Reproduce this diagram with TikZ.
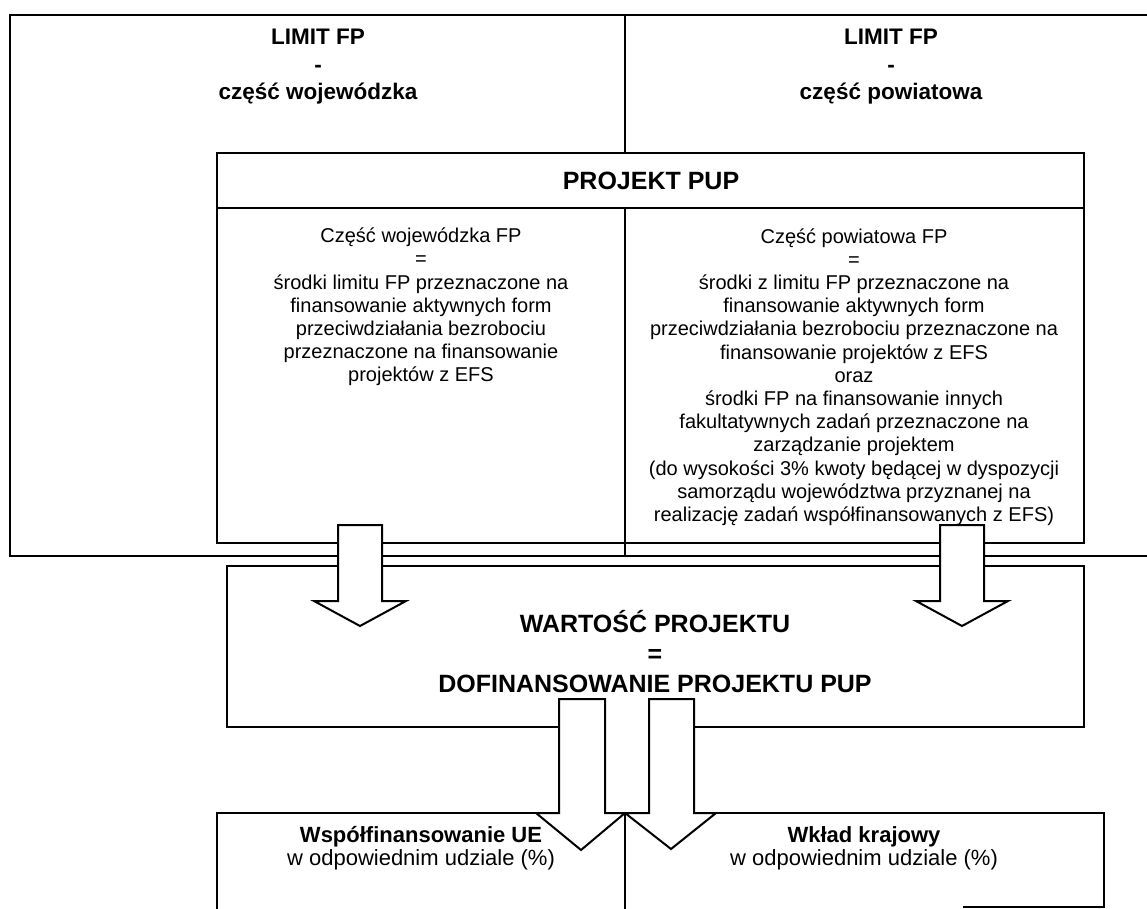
\documentclass[tikz,border=0pt]{standalone}
\usepackage{fontspec}
\setmainfont{Liberation Sans}
\begin{document}
\begin{tikzpicture}[x=1pt,y=-1pt,
  box/.style={draw=black, line width=2pt},
  hdr/.style={font=\fontsize{22.5}{27.5}\selectfont\bfseries, align=center, inner sep=0pt},
  big/.style={font=\fontsize{25}{30}\selectfont\bfseries, align=center, inner sep=0pt},
  body/.style={font=\fontsize{20}{23.2}\selectfont, align=center, inner sep=0pt},
  low/.style={font=\fontsize{22}{23}\selectfont, align=center, inner sep=0pt},
  blk/.style={draw=black, fill=white, line width=2pt, line join=miter}]
\useasboundingbox (0,0) rectangle (1147,909);

% outer frame (LIMIT FP)
\coordinate (oTL) at (10,15);
\coordinate (oTR) at (1147,15);
\coordinate (oBL) at (10,556);
\coordinate (oBR) at (1147,556);
\draw[box] (oTR) -- (oTL) -- (oBL) -- (oBR);
\draw[box] (625,15) -- (625,153);

% PROJEKT PUP box
\coordinate (pTL) at (217,153);
\coordinate (pBR) at (1084,543);
\draw[box] (pTL) rectangle (pBR);
\draw[box] (217,208) -- (1084,208);
\draw[box] (625,208) -- (625,556);

% WARTOSC box
\coordinate (wTL) at (227,566);
\coordinate (wBR) at (1084,727);
\draw[box] (wTL) rectangle (wBR);

% bottom boxes
\draw[box] (217,909) -- (217,813) -- (1104,813) -- (1104,907) -- (963,907);
\draw[box] (625,813) -- (625,909);

% texts
\node[hdr] (limL) at (318,67) {LIMIT FP\\-\\część wojewódzka};
\node[hdr] (limR) at (891,67) {LIMIT FP\\-\\część powiatowa};
\node[big] (pup) at (651,181) {PROJEKT PUP};
\node[body] (colL) at (421,307) {Część wojewódzka FP\\=\\środki limitu FP przeznaczone na\\finansowanie aktywnych form\\przeciwdziałania bezrobociu\\przeznaczone na finansowanie\\projektów z EFS};
\node[body] (colR) at (854,377) {Część powiatowa FP\\=\\środki z limitu FP przeznaczone na\\finansowanie aktywnych form\\przeciwdziałania bezrobociu przeznaczone na\\finansowanie projektów z EFS\\oraz\\środki FP na finansowanie innych\\fakultatywnych zadań przeznaczone na\\zarządzanie projektem\\(do wysokości 3\% kwoty będącej w dyspozycji\\samorządu województwa przyznanej na\\realizację zadań współfinansowanych z EFS)};
\node[big] (wart) at (655,652) {WARTOŚĆ PROJEKTU\\=\\DOFINANSOWANIE PROJEKTU PUP};
\node[low] (ue) at (421,848) {\textbf{Współfinansowanie UE}\\w odpowiednim udziale (\%)};
\node[low] (kraj) at (864,848) {\textbf{Wkład krajowy}\\w odpowiednim udziale (\%)};

% upper block arrows
\draw[blk] (338,525) -- (382,525) -- (382,601) -- (406,601) -- (360,626) -- (314,601) -- (338,601) -- cycle;
\draw[blk] (940,525) -- (984,525) -- (984,601) -- (1008,601) -- (962,626) -- (916,601) -- (940,601) -- cycle;

% lower block arrows
\fill[white] (605,700) rectangle (649,811);
\draw[blk] (559,699) -- (605,699) -- (605,813) -- (625,813) -- (581,850) -- (536,813) -- (559,813) -- cycle;
\draw[blk] (649,699) -- (694,699) -- (694,813) -- (716,813) -- (671,849) -- (625,813) -- (649,813) -- cycle;
\end{tikzpicture}
\end{document}
